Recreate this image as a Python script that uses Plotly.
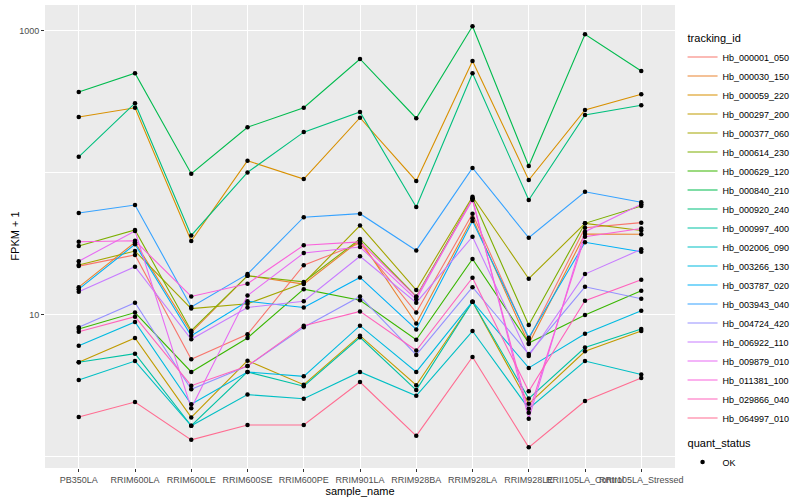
import plotly.graph_objects as go

samples = ["PB350LA", "RRIM600LA", "RRIM600LE", "RRIM600SE", "RRIM600PE", "RRIM901LA",
           "RRIM928BA", "RRIM928LA", "RRIM928LE", "RRII105LA_Control", "RRII105LA_Stressed"]

tracking_ids = ["Hb_000001_050", "Hb_000030_150", "Hb_000059_220", "Hb_000297_200", "Hb_000377_060",
                "Hb_000614_230", "Hb_000629_120", "Hb_000840_210", "Hb_000920_240", "Hb_000997_400",
                "Hb_002006_090", "Hb_003266_130", "Hb_003787_020", "Hb_003943_040", "Hb_004724_420",
                "Hb_006922_110", "Hb_009879_010", "Hb_011381_100", "Hb_029866_040", "Hb_064997_010"]

colors = ["#F8766D", "#EA8331", "#D89000", "#C09B00", "#A3A500", "#7CAE00", "#39B600", "#00BB4E",
          "#00BF7D", "#00C1A3", "#00BFC4", "#00BAE0", "#00B0F6", "#35A2FF", "#9590FF", "#C77CFF",
          "#E76BF3", "#FA62DB", "#FF62BC", "#FF6C91"]

Hb_000001_050 = [22.1, 26.5, 4.88, 7.31, 22.4, 32.0, 10.4, 51.7, 6.72, 41.2, 44.7]
Hb_000030_150 = [15.7, 32.5, 7.55, 18.9, 16.5, 33.6, 8.71, 48.0, 6.25, 37.2, 37.0]
Hb_000059_220 = [248, 288, 33.2, 122, 90.7, 245, 87.9, 615, 89.3, 278, 358]
Hb_000297_200 = [4.65, 6.89, 1.90, 4.77, 3.23, 7.15, 3.20, 12.4, 2.37, 5.55, 7.71]
Hb_000377_060 = [22.5, 28.2, 11.1, 12.0, 16.8, 42.6, 15.0, 68.1, 18.0, 44.2, 39.4]
Hb_000614_230 = [30.6, 39.7, 7.75, 18.9, 17.1, 34.3, 13.5, 66.3, 8.50, 44.2, 58.6]
Hb_000629_120 = [7.97, 10.4, 3.97, 6.89, 15.2, 12.7, 6.70, 24.8, 6.35, 10.0, 14.8]
Hb_000840_210 = [372, 504, 98.9, 210, 288, 635, 243, 1079, 112, 948, 523]
Hb_000920_240 = [130, 310, 36.3, 101, 194, 269, 57.6, 504, 64.5, 256, 300]
Hb_000997_400 = [4.65, 5.34, 1.66, 3.97, 3.15, 6.97, 2.96, 12.4, 2.58, 5.90, 7.97]
Hb_002006_090 = [3.49, 4.74, 1.66, 2.75, 2.57, 3.97, 2.70, 7.71, 2.19, 4.74, 3.81]
Hb_003266_130 = [6.08, 8.93, 2.35, 3.97, 3.70, 8.41, 3.97, 12.4, 4.24, 7.38, 10.7]
Hb_003787_020 = [15.2, 31.5, 7.15, 12.5, 11.3, 18.4, 7.91, 45.9, 6.92, 32.5, 27.9]
Hb_003943_040 = [52.3, 59.5, 11.4, 19.4, 48.8, 51.7, 28.5, 108.4, 35.0, 73.8, 62.2]
Hb_004724_420 = [8.19, 12.2, 3.00, 4.37, 8.19, 13.5, 5.23, 15.7, 5.31, 15.8, 13.0]
Hb_006922_110 = [14.6, 21.9, 6.74, 11.3, 12.5, 25.9, 12.2, 35.6, 5.14, 19.4, 29.0]
Hb_009879_010 = [23.9, 39.0, 2.20, 13.7, 27.3, 30.1, 12.9, 66.0, 1.86, 38.6, 60.2]
Hb_011381_100 = [32.8, 33.3, 13.5, 16.6, 31.0, 32.7, 13.4, 64.5, 2.05, 35.6, 40.7]
Hb_029866_040 = [7.63, 9.73, 3.18, 4.37, 8.41, 10.6, 5.62, 18.3, 2.90, 12.6, 17.7]
Hb_064997_010 = [1.91, 2.44, 1.32, 1.68, 1.68, 3.37, 1.41, 5.06, 1.17, 2.48, 3.60]

series = [Hb_000001_050, Hb_000030_150, Hb_000059_220, Hb_000297_200, Hb_000377_060,
          Hb_000614_230, Hb_000629_120, Hb_000840_210, Hb_000920_240, Hb_000997_400,
          Hb_002006_090, Hb_003266_130, Hb_003787_020, Hb_003943_040, Hb_004724_420,
          Hb_006922_110, Hb_009879_010, Hb_011381_100, Hb_029866_040, Hb_064997_010]

quant_status = "OK"
y_tick_vals = [10, 1000]
y_minor_vals = [1, 100]

FONT = "Liberation Sans, Arial, sans-serif"
fig = go.Figure()

for i, (name, vals, col) in enumerate(zip(tracking_ids, series, colors)):
    fig.add_trace(go.Scatter(
        x=samples, y=vals, mode="lines", name=name,
        line=dict(color=col, width=1.1),
        legendgroup="tracking_id",
        legendgrouptitle=dict(text="tracking_id", font=dict(size=11, color="black")) if i == 0 else None,
    ))

for i, vals in enumerate(series):
    fig.add_trace(go.Scatter(
        x=samples, y=vals, mode="markers", name=quant_status,
        marker=dict(color="black", size=4.5),
        legendgroup="quant_status",
        showlegend=(i == 0),
        legendgrouptitle=dict(text="quant_status", font=dict(size=11, color="black")) if i == 0 else None,
    ))

fig.update_layout(
    width=800, height=500,
    margin=dict(l=45, r=116, t=5, b=32),
    paper_bgcolor="white", plot_bgcolor="#EBEBEB",
    font=dict(family=FONT, size=9, color="black"),
    legend=dict(x=1.012, y=0.96, xanchor="left", yanchor="top",
                traceorder="grouped", tracegroupgap=6, itemwidth=30,
                font=dict(size=9, color="black"), bgcolor="rgba(0,0,0,0)"),
    xaxis=dict(
        type="category", categoryorder="array", categoryarray=samples,
        range=[-0.6, 10.6], showgrid=True, gridcolor="white", gridwidth=1.1,
        zeroline=False, ticks="outside", ticklen=3, tickcolor="#333333", tickwidth=1,
        tickangle=0, tickfont=dict(size=9, color="#4D4D4D", family=FONT),
        title=dict(text="sample_name", font=dict(size=11, color="black"), standoff=0),
        automargin=False,
    ),
    yaxis=dict(
        type="log", range=[-0.0775, 3.183],
        tickvals=y_tick_vals, ticktext=[str(v) for v in y_tick_vals],
        showgrid=True, gridcolor="white", gridwidth=1.1, zeroline=False,
        ticks="outside", ticklen=3, tickcolor="#333333", tickwidth=1,
        tickfont=dict(size=9, color="#4D4D4D", family=FONT),
        minor=dict(tickvals=y_minor_vals, showgrid=True, gridcolor="white", gridwidth=0.55, ticks=""),
        automargin=False,
    ),
    annotations=[dict(text="FPKM + 1", xref="paper", yref="paper", x=-0.049, y=0.5,
                      xanchor="center", yanchor="middle", textangle=-90, showarrow=False,
                      font=dict(size=11, color="black", family=FONT))],
)

fig.write_html("out.html", config={"displayModeBar": False},
               post_script="document.body.style.margin='0px';")
